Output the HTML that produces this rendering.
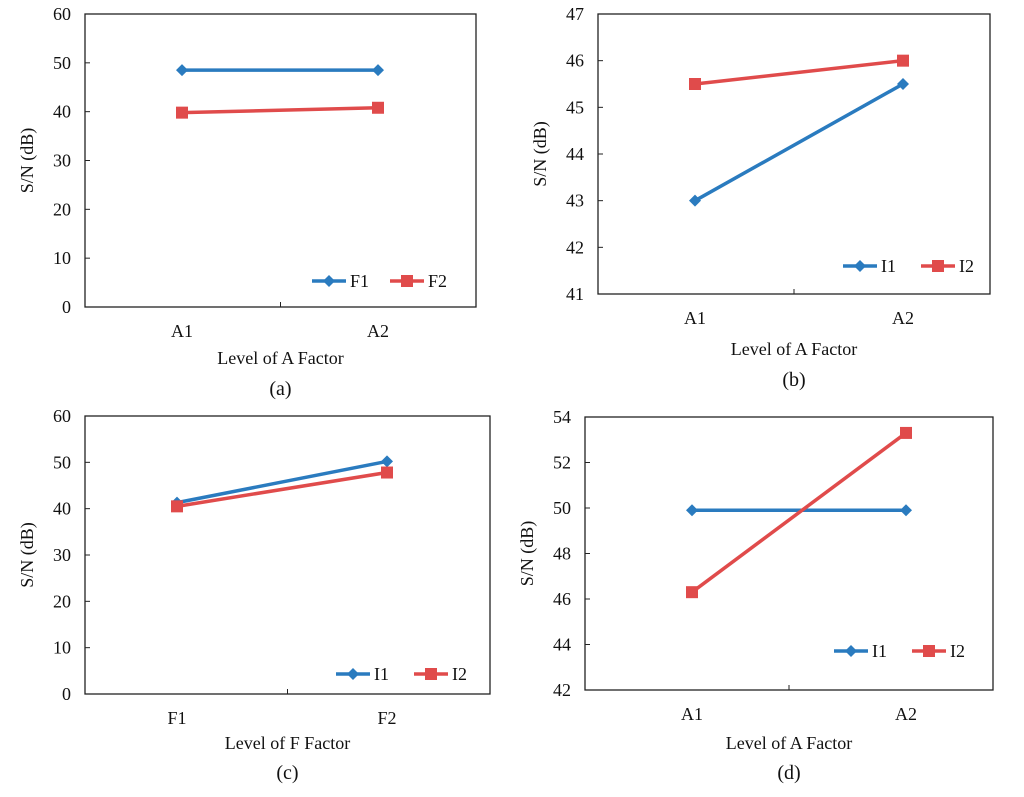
<!DOCTYPE html>
<html><head><meta charset="utf-8"><style>
body{margin:0;background:#fff}
svg text{font-family:"Liberation Serif",serif;fill:#111}
</style></head><body>
<svg id="s" width="1024" height="792"></svg>
<script>
const catsA=["A1","A2"];
const catsC=["F1","F2"];
const aF1=[48.5,48.5], aF2=[39.8,40.8];
const bI1=[43,45.5], bI2=[45.5,46];
const cI1=[41.3,50.2], cI2=[40.5,47.8];
const dI1=[49.9,49.9], dI2=[46.3,53.3];
const ticksA=[0,10,20,30,40,50,60];
const ticksB=[41,42,43,44,45,46,47];
const ticksD=[42,44,46,48,50,52,54];
const namesA=["F1","F2"], namesI=["I1","I2"];
const xTitleA="Level of A Factor", xTitleF="Level of F Factor";
const labels=["(a)","(b)","(c)","(d)"];
const NS="http://www.w3.org/2000/svg";
const svg=document.getElementById('s');
function el(t,a,p){const e=document.createElementNS(NS,t);for(const k in a)e.setAttribute(k,a[k]);(p||svg).appendChild(e);return e;}
function chart(id,box,ticks,cats,series,names,xt,lab,cx,legY,legX,xtY,labY){
  const g=el('g',{});
  
  
  const [x0,y0,x1,y1]=box, mn=ticks[0], mx=ticks[ticks.length-1];
  const Y=v=>y1-(v-mn)/(mx-mn)*(y1-y0);
  const X=i=>cx[i];
  const r=el('rect',{x:x0,y:y0,width:x1-x0,height:y1-y0,fill:'none',stroke:'#222','stroke-width':1.3},g);
  
  ticks.forEach(t=>{
    el('line',{x1:x0,x2:x0+5,y1:Y(t),y2:Y(t),stroke:'#222'},g);
    const tx=el('text',{x:x0-14,y:Y(t)+6,'text-anchor':'end','font-size':18},g);tx.textContent=t;
    
  });
  el('line',{x1:(x0+x1)/2,x2:(x0+x1)/2,y1:y1,y2:y1-5,stroke:'#222'},g);
  cats.forEach((c,i)=>{const tx=el('text',{x:X(i),y:y1+30,'text-anchor':'middle','font-size':18},g);tx.textContent=c;
    });
  const yt=el('text',{x:0,y:0,'text-anchor':'middle','font-size':18,transform:`translate(${x0-52},${(y0+y1)/2}) rotate(-90)`},g);yt.textContent="S/N (dB)";
  
  const xtt=el('text',{x:(x0+x1)/2,y:xtY,'text-anchor':'middle','font-size':18},g);xtt.textContent=xt;
  
  const lt=el('text',{x:(x0+x1)/2,y:labY,'text-anchor':'middle','font-size':20},g);lt.textContent=lab;
  
  const cols=['#2a7bbf','#e04b4b'];
  series.forEach((s,k)=>{
    const col=cols[k];
    const pl=el('polyline',{points:s.map((v,i)=>X(i)+','+Y(v)).join(' '),fill:'none',stroke:col,'stroke-width':3.5},g);
    
    s.forEach((v,i)=>{let m;
      if(k==0)m=el('polygon',{points:`${X(i)},${Y(v)-6} ${X(i)+6},${Y(v)} ${X(i)},${Y(v)+6} ${X(i)-6},${Y(v)}`,fill:col},g);
      else m=el('rect',{x:X(i)-6,y:Y(v)-6,width:12,height:12,fill:col},g);
      });
    const lx=legX+k*78;
    el('line',{x1:lx,x2:lx+34,y1:legY,y2:legY,stroke:col,'stroke-width':3.5},g);
    if(k==0)el('polygon',{points:`${lx+17},${legY-6} ${lx+23},${legY} ${lx+17},${legY+6} ${lx+11},${legY}`,fill:col},g);
    else el('rect',{x:lx+11,y:legY-6,width:12,height:12,fill:col},g);
    const ltx=el('text',{x:lx+38,y:legY+6,'font-size':18},g);ltx.textContent=names[k];
    
  });
}
chart('a',[85,14,476,307],ticksA,catsA,[aF1,aF2],namesA,xTitleA,labels[0],[182,378],281,312,364,395);
chart('b',[598,14,990,294],ticksB,catsA,[bI1,bI2],namesI,xTitleA,labels[1],[695,903],266,843,355,386);
chart('c',[85,416,490,694],ticksA,catsC,[cI1,cI2],namesI,xTitleF,labels[2],[177,387],674,336,749,779);
chart('d',[585,417,993,690],ticksD,catsA,[dI1,dI2],namesI,xTitleA,labels[3],[692,906],651,834,749,779);
</script>
</body></html>
